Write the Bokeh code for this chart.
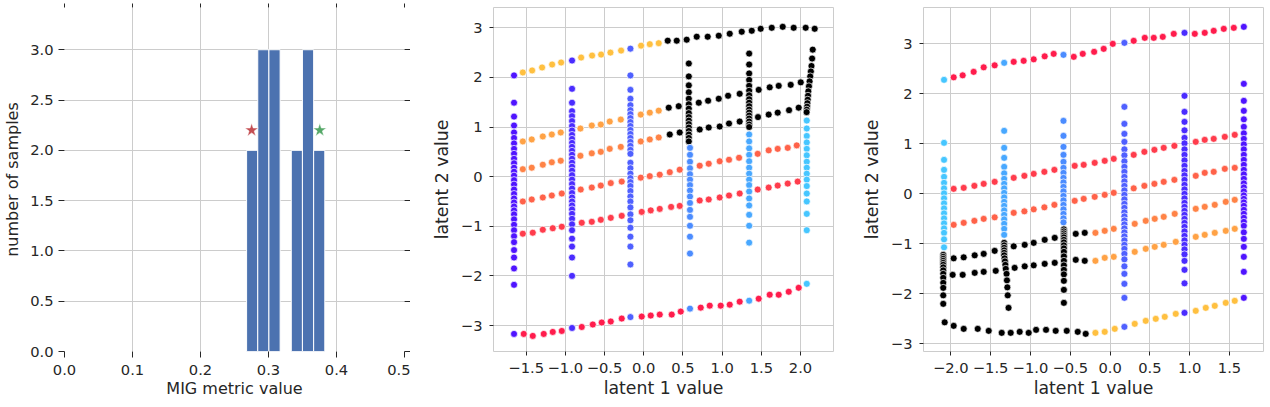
from bokeh.plotting import figure
from bokeh.models import Range1d, FixedTicker, LinearAxis, CustomJSTickFormatter
from bokeh.layouts import row
from bokeh.embed import file_html
from bokeh.resources import INLINE

# ---------------- data: left panel (histogram of MIG values) ----------------
hist_edges = [0.2678, 0.2842, 0.3006, 0.3171, 0.3335, 0.3499, 0.3664, 0.3828]
hist_counts = [2, 3, 3, 0, 2, 3, 2]
star_red = (0.2752, 2.2)
star_green = (0.3754, 2.2)
hist_xticks = [0.0, 0.1, 0.2, 0.3, 0.4, 0.5]
hist_yticks = [0.0, 0.5, 1.0, 1.5, 2.0, 2.5, 3.0]

# ---------------- data: middle panel ----------------
mid_row1_yellow_x = [-1.543, -1.424, -1.297, -1.169, -1.054, -0.799, -0.659, -0.544, -0.425, -0.289, -0.034, 0.077, 0.191]
mid_row1_yellow_y = [2.10, 2.14, 2.20, 2.26, 2.30, 2.40, 2.44, 2.46, 2.50, 2.54, 2.64, 2.67, 2.69]
mid_row1_black_x = [0.306, 0.421, 0.548, 0.676, 0.816, 0.957, 1.097, 1.250, 1.378, 1.492, 1.633, 1.773, 1.913, 2.066, 2.181]
mid_row1_black_y = [2.74, 2.74, 2.76, 2.82, 2.82, 2.84, 2.88, 2.92, 2.94, 2.98, 3.00, 3.02, 3.00, 3.00, 2.98]
mid_row2_orange_x = [-1.543, -1.429, -1.288, -1.173, -1.059, -0.808, -0.663, -0.548, -0.434, -0.293, -0.038, 0.077, 0.191]
mid_row2_orange_y = [0.71, 0.75, 0.81, 0.85, 0.89, 0.97, 1.03, 1.05, 1.11, 1.15, 1.25, 1.29, 1.33]
mid_row2_black_x = [0.319, 0.446, 0.702, 0.821, 0.957, 1.076, 1.224, 1.467, 1.607, 1.722, 1.875, 2.003]
mid_row2_black_y = [1.39, 1.42, 1.49, 1.53, 1.57, 1.63, 1.67, 1.75, 1.80, 1.83, 1.85, 1.90]
mid_row3_orange_x = [-1.543, -1.429, -1.288, -1.173, -1.059, -0.808, -0.663, -0.548, -0.434, -0.293, -0.038, 0.077, 0.191]
mid_row3_orange_y = [0.15, 0.18, 0.24, 0.29, 0.32, 0.42, 0.47, 0.50, 0.56, 0.60, 0.71, 0.75, 0.79]
mid_row3_black_x = [0.332, 0.459, 0.714, 0.829, 0.969, 1.088, 1.224, 1.458, 1.594, 1.709, 1.854, 1.977]
mid_row3_black_y = [0.85, 0.89, 0.95, 0.99, 1.01, 1.07, 1.11, 1.20, 1.25, 1.29, 1.34, 1.39]
mid_row4_x = [-1.543, -1.429, -1.288, -1.173, -1.046, -0.804, -0.663, -0.548, -0.421, -0.281, -0.038, 0.077, 0.204,
              0.332, 0.459, 0.714, 0.829, 0.969, 1.088, 1.216, 1.454, 1.594, 1.709, 1.837, 1.952]
mid_row4_y = [-0.50, -0.46, -0.42, -0.38, -0.34, -0.26, -0.22, -0.18, -0.13, -0.10, -0.02, 0.01, 0.04,
              0.09, 0.14, 0.22, 0.26, 0.31, 0.34, 0.38, 0.46, 0.53, 0.56, 0.58, 0.63]
mid_row5_x = [-1.543, -1.416, -1.288, -1.161, -1.046, -0.791, -0.663, -0.548, -0.421, -0.281, -0.026, 0.089, 0.204,
              0.349, 0.459, 0.714, 0.829, 0.969, 1.088, 1.224, 1.454, 1.594, 1.709, 1.837, 1.964]
mid_row5_y = [-1.15, -1.13, -1.07, -1.04, -1.01, -0.93, -0.91, -0.87, -0.83, -0.79, -0.71, -0.68, -0.65,
              -0.61, -0.59, -0.48, -0.46, -0.42, -0.38, -0.34, -0.26, -0.22, -0.18, -0.14, -0.10]
mid_row6_x = [-1.531, -1.416, -1.276, -1.161, -1.046, -0.791, -0.650, -0.536, -0.421, -0.281, -0.026, 0.089, 0.204,
              0.357, 0.472, 0.727, 0.842, 0.982, 1.097, 1.224, 1.467, 1.607, 1.722, 1.850, 1.977]
mid_row6_y = [-3.17, -3.21, -3.17, -3.13, -3.11, -3.03, -2.98, -2.94, -2.92, -2.86, -2.82, -2.80, -2.78,
              -2.78, -2.72, -2.64, -2.60, -2.60, -2.58, -2.52, -2.46, -2.38, -2.38, -2.32, -2.24]

mid_col_x = [-1.655, -0.915, -0.17, 0.59, 1.345, 2.08]
mid_col1_y = [2.04, 1.49, 1.21, 1.03, 0.89, 0.78, 0.67, 0.56, 0.46, 0.36, 0.27, 0.18, 0.10, 0.02, -0.07, -0.16,
              -0.26, -0.35, -0.44, -0.52, -0.60, -0.68, -0.76, -0.86, -0.97, -1.08, -1.20, -1.32, -1.48, -1.63,
              -1.85, -2.18, -3.17]
mid_col2_y = [2.34, 1.77, 1.49, 1.32, 1.22, 1.12, 1.02, 0.93, 0.84, 0.76, 0.68, 0.60, 0.52, 0.44, 0.36, 0.28,
              0.20, 0.12, 0.03, -0.06, -0.15, -0.24, -0.33, -0.42, -0.50, -0.58, -0.66, -0.75, -0.85, -0.96,
              -1.08, -1.25, -1.41, -1.63, -2.00, -3.05]
mid_col3_y = [2.58, 2.04, 1.75, 1.57, 1.44, 1.34, 1.26, 1.18, 1.10, 1.02, 0.94, 0.86, 0.78, 0.70, 0.62, 0.54,
              0.46, 0.28, 0.17, 0.06, -0.03, -0.11, -0.19, -0.29, -0.40, -0.50, -0.62, -0.76, -0.88, -1.03,
              -1.21, -1.41, -1.77, -2.83]
mid_col4_black_y = [2.28, 2.02, 1.84, 1.70, 1.57, 1.46, 1.37, 1.28, 1.20, 1.13, 1.06, 0.99, 0.92, 0.85, 0.78, 0.71]
mid_col4_blue_y = [0.58, 0.44, 0.30, 0.17, 0.05, -0.06, -0.17, -0.28, -0.40, -0.53, -0.67, -0.81, -0.99, -1.21,
                   -1.55, -2.66]
mid_col5_black_y = [2.48, 2.26, 2.08, 1.95, 1.83, 1.73, 1.64, 1.56, 1.49, 1.42, 1.35, 1.29, 1.23, 1.17, 1.11,
                    1.05, 1.00]
mid_col5_blue_y = [0.85, 0.71, 0.57, 0.44, 0.31, 0.18, 0.06, -0.06, -0.17, -0.30, -0.44, -0.58, -0.77, -0.99,
                   -1.33, -2.50]
mid_col6_black_x = [2.156, 2.148, 2.140, 2.132, 2.124, 2.116, 2.108, 2.100, 2.096, 2.092, 2.088, 2.084, 2.080, 2.078]
mid_col6_black_y = [2.56, 2.38, 2.23, 2.12, 2.02, 1.92, 1.82, 1.72, 1.63, 1.55, 1.48, 1.41, 1.35, 1.30]
mid_col6_cyan_y = [1.13, 0.97, 0.82, 0.69, 0.56, 0.43, 0.30, 0.18, 0.06, -0.06, -0.19, -0.34, -0.50, -0.75,
                   -1.08, -2.16]

# ---------------- data: right panel ----------------
rgt_row1_x = [-1.964, -1.851, -1.713, -1.587, -1.449, -1.210, -1.085, -0.959, -0.821, -0.708, -0.456, -0.343,
              -0.200, -0.080, 0.034, 0.297, 0.436, 0.549, 0.662, 0.800, 1.064, 1.189, 1.302, 1.428, 1.554]
rgt_row1_y = [2.33, 2.37, 2.44, 2.53, 2.57, 2.64, 2.66, 2.69, 2.75, 2.80, 2.74, 2.80, 2.84, 2.90, 3.00, 3.06,
              3.12, 3.12, 3.14, 3.20, 3.20, 3.22, 3.26, 3.30, 3.32]
rgt_row2_x = [-1.964, -1.838, -1.704, -1.587, -1.449, -1.210, -1.076, -0.959, -0.825, -0.699, -0.444, -0.331,
              -0.193, -0.067, 0.046, 0.297, 0.431, 0.557, 0.674, 0.808, 1.076, 1.189, 1.302, 1.441, 1.566]
rgt_row2_y = [0.10, 0.12, 0.16, 0.20, 0.24, 0.32, 0.36, 0.40, 0.44, 0.48, 0.56, 0.58, 0.62, 0.66, 0.70, 0.78,
              0.84, 0.88, 0.92, 0.96, 1.04, 1.08, 1.10, 1.14, 1.18]
rgt_row3_x = [-1.964, -1.838, -1.704, -1.587, -1.449, -1.210, -1.076, -0.959, -0.825, -0.699, -0.444, -0.331,
              -0.193, -0.067, 0.046, 0.297, 0.431, 0.557, 0.674, 0.808, 1.076, 1.189, 1.302, 1.441, 1.566]
rgt_row3_y = [-0.62, -0.58, -0.54, -0.50, -0.47, -0.38, -0.35, -0.31, -0.27, -0.22, -0.14, -0.10, -0.06, -0.02,
              0.02, 0.11, 0.16, 0.20, 0.24, 0.28, 0.36, 0.42, 0.44, 0.50, 0.52]
rgt_row4_black_x = [-1.964, -1.838, -1.700, -1.587, -1.449, -1.210, -1.072, -0.959, -0.821, -0.695, -0.431, -0.318]
rgt_row4_black_y = [-1.29, -1.27, -1.23, -1.20, -1.14, -1.05, -1.02, -0.98, -0.92, -0.88, -0.80, -0.78]
rgt_row4_orange_x = [-0.184, -0.067, 0.046, 0.310, 0.448, 0.561, 0.674, 0.812, 1.076, 1.189, 1.315, 1.453, 1.566]
rgt_row4_orange_y = [-0.78, -0.74, -0.70, -0.60, -0.54, -0.50, -0.46, -0.40, -0.30, -0.26, -0.22, -0.16, -0.12]
rgt_row5_black_x = [-1.977, -1.851, -1.700, -1.587, -1.436, -1.198, -1.072, -0.959, -0.821, -0.695, -0.431, -0.318]
rgt_row5_black_y = [-1.62, -1.62, -1.58, -1.56, -1.54, -1.48, -1.45, -1.43, -1.40, -1.38, -1.32, -1.34]
rgt_row5_orange_x = [-0.184, -0.067, 0.046, 0.310, 0.448, 0.561, 0.674, 0.825, 1.076, 1.189, 1.315, 1.453, 1.566]
rgt_row5_orange_y = [-1.34, -1.28, -1.26, -1.16, -1.10, -1.06, -1.02, -0.96, -0.86, -0.82, -0.78, -0.74, -0.70]
rgt_row6_black_x = [-2.077, -1.964, -1.838, -1.662, -1.524, -1.361, -1.248, -1.135, -1.022, -0.929, -0.804,
                    -0.683, -0.544, -0.406, -0.306]
rgt_row6_black_y = [-2.57, -2.64, -2.70, -2.70, -2.74, -2.78, -2.78, -2.76, -2.78, -2.72, -2.72, -2.74, -2.74,
                    -2.76, -2.80]
rgt_row6_yellow_x = [-0.184, -0.067, 0.059, 0.310, 0.448, 0.574, 0.687, 0.825, 1.076, 1.202, 1.315, 1.453, 1.566]
rgt_row6_yellow_y = [-2.78, -2.76, -2.70, -2.60, -2.54, -2.50, -2.46, -2.40, -2.34, -2.28, -2.24, -2.18, -2.14]

rgt_col_x = [-2.085, -1.33, -0.585, 0.18, 0.935, 1.68]
rgt_col1_cyan_y = [2.28, 1.02, 0.68, 0.48, 0.34, 0.22, 0.11, 0.01, -0.09, -0.19, -0.29, -0.39, -0.49, -0.59,
                   -0.69, -0.78, -0.91, -1.07]
rgt_col1_black_y = [-1.22, -1.26, -1.30, -1.34, -1.38, -1.42, -1.47, -1.53, -1.60, -1.68, -1.78, -1.88, -2.03, -2.20]
rgt_col2_blue_y = [2.62, 1.26, 0.92, 0.72, 0.54, 0.41, 0.30, 0.20, 0.11, 0.02, -0.07, -0.16, -0.24, -0.33,
                   -0.42, -0.51, -0.60, -0.70, -0.82]
rgt_col2_black_x = [-1.33, -1.33, -1.33, -1.33, -1.33, -1.33, -1.325, -1.32, -1.315, -1.31, -1.30, -1.295,
                    -1.29, -1.285, -1.275]
rgt_col2_black_y = [-0.98, -1.03, -1.08, -1.13, -1.18, -1.23, -1.29, -1.35, -1.42, -1.50, -1.60, -1.73, -1.87,
                    -2.03, -2.28]
rgt_col3_blue_y = [2.78, 1.46, 1.16, 0.94, 0.78, 0.64, 0.52, 0.42, 0.32, 0.23, 0.14, 0.05, -0.04, -0.13,
                   -0.22, -0.31, -0.40, -0.49, -0.57]
rgt_col3_black_y = [-0.71, -0.75, -0.79, -0.83, -0.87, -0.92, -0.97, -1.03, -1.09, -1.16, -1.25, -1.34, -1.43,
                    -1.52, -1.61, -1.74, -1.92, -2.18]
rgt_col4_y = [3.02, 1.74, 1.40, 1.20, 1.04, 0.89, 0.77, 0.65, 0.54, 0.44, 0.34, 0.25, 0.16, 0.07, -0.02, -0.11,
              -0.20, -0.28, -0.37, -0.45, -0.53, -0.61, -0.69, -0.77, -0.85, -0.93, -1.02, -1.10, -1.20, -1.31,
              -1.45, -1.60, -1.80, -2.08, -2.66]
rgt_col5_y = [3.22, 1.96, 1.64, 1.44, 1.27, 1.12, 1.01, 0.89, 0.78, 0.67, 0.56, 0.46, 0.37, 0.28, 0.18, 0.09,
              0.00, -0.09, -0.18, -0.26, -0.34, -0.42, -0.50, -0.58, -0.66, -0.75, -0.84, -0.93, -1.02, -1.11,
              -1.21, -1.34, -1.52, -1.79, -2.38]
rgt_col6_y = [3.34, 2.20, 1.86, 1.66, 1.49, 1.34, 1.21, 1.10, 0.99, 0.89, 0.78, 0.68, 0.58, 0.48, 0.39, 0.30,
              0.21, 0.13, 0.05, -0.03, -0.10, -0.17, -0.24, -0.32, -0.40, -0.48, -0.56, -0.64, -0.77, -0.90,
              -1.06, -1.26, -1.56, -2.08]

mid_xticks = [-1.5, -1.0, -0.5, 0.0, 0.5, 1.0, 1.5, 2.0]
mid_yticks = [-3, -2, -1, 0, 1, 2, 3]
rgt_xticks = [-2.0, -1.5, -1.0, -0.5, 0.0, 0.5, 1.0, 1.5]
rgt_yticks = [-3, -2, -1, 0, 1, 2, 3]

# ---------------- styles ----------------
TEXT = "#262626"
FONT = "DejaVu Sans"
GRID = "#cccccc"
BAR = "#4c72b0"
C_YELLOW, C_ORANGE1, C_ORANGE2, C_REDOR, C_RED, C_CRIMSON = "#ffc040", "#ffa245", "#ff8346", "#ff6249", "#ff3c4c", "#ff1c4c"
C_COL1, C_COL2, C_COL3, C_COL4, C_COL5, C_COL6 = "#4f14ff", "#4a2cff", "#4f60ff", "#4b8cff", "#48a8ff", "#46c6ff"
BLACK = "#000000"

fmt1 = "return (tick < 0 ? '\u2212' : '') + Math.abs(tick).toFixed(1);"
fmt0 = "return (tick < 0 ? '\u2212' : '') + Math.abs(tick).toFixed(0);"

FIG_H = 405


def style_axis(ax, label_size, tick_out):
    ax.axis_label_text_font = FONT
    ax.axis_label_text_font_size = label_size
    ax.axis_label_text_font_style = "normal"
    ax.axis_label_text_color = TEXT
    ax.axis_label_text_line_height = 1.0
    ax.major_label_text_font = FONT
    ax.major_label_text_font_size = "14.7px"
    ax.major_label_text_color = TEXT
    ax.major_label_text_line_height = 1.0
    ax.axis_line_color = None
    ax.major_tick_line_color = TEXT
    ax.major_tick_out = tick_out
    ax.major_tick_in = 0
    ax.minor_tick_line_color = None


def hidden_axis(ticks, tick_out):
    ax = LinearAxis(ticker=FixedTicker(ticks=ticks))
    style_axis(ax, "16px", tick_out)
    ax.major_label_text_font_size = "0px"
    ax.major_label_text_color = None
    ax.major_label_standoff = 0
    ax.axis_label_standoff = 0
    return ax


# ---------------- left panel ----------------
p1 = figure(width=410, height=FIG_H, x_range=Range1d(0, 0.5), y_range=Range1d(0, 3.42),
            output_backend="svg", toolbar_location=None,
            min_border_left=63, min_border_right=6, min_border_top=6, min_border_bottom=FIG_H - 352)
p1.outline_line_color = None
p1.background_fill_color = "white"
p1.xgrid.grid_line_color = GRID
p1.ygrid.grid_line_color = GRID
p1.quad(left=hist_edges[:-1], right=hist_edges[1:], bottom=0, top=hist_counts,
        fill_color=BAR, line_color="white", line_width=1)
p1.scatter(x=[star_red[0]], y=[star_red[1]], marker="star", size=14, fill_color="#c44e52",
           line_color="white", line_width=0.5)
p1.scatter(x=[star_green[0]], y=[star_green[1]], marker="star", size=14, fill_color="#55a868",
           line_color="white", line_width=0.5)
p1.xaxis.ticker = FixedTicker(ticks=hist_xticks)
p1.yaxis.ticker = FixedTicker(ticks=hist_yticks)
p1.xaxis.formatter = CustomJSTickFormatter(code=fmt1)
p1.yaxis.formatter = CustomJSTickFormatter(code=fmt1)
p1.xaxis.axis_label = "MIG metric value"
p1.yaxis.axis_label = "number of samples"
for ax in p1.xaxis + p1.yaxis:
    style_axis(ax, "16px", 6)
p1.xaxis.major_label_standoff = 7
p1.xaxis.axis_label_standoff = 1
p1.yaxis.major_label_standoff = 5
p1.yaxis.axis_label_standoff = 5
p1.add_layout(hidden_axis(hist_xticks, 4), "above")
p1.add_layout(hidden_axis(hist_yticks, 6), "right")


def scatter_panel(p, series):
    for xs, ys, col in series:
        p.scatter(x=xs, y=ys, size=7, fill_color=col, line_color="white", line_width=0.7)


def style_scatter_fig(p, xticks, yticks):
    p.outline_line_color = GRID
    p.outline_line_width = 1
    p.xgrid.grid_line_color = GRID
    p.ygrid.grid_line_color = GRID
    p.xaxis.ticker = FixedTicker(ticks=xticks)
    p.yaxis.ticker = FixedTicker(ticks=yticks)
    p.xaxis.formatter = CustomJSTickFormatter(code=fmt1)
    p.yaxis.formatter = CustomJSTickFormatter(code=fmt0)
    p.xaxis.axis_label = "latent 1 value"
    p.yaxis.axis_label = "latent 2 value"
    for ax in p.xaxis + p.yaxis:
        style_axis(ax, "17.3px", 4)
    p.xaxis.major_label_standoff = 7
    p.xaxis.axis_label_standoff = 2
    p.yaxis.major_label_standoff = 7
    p.yaxis.axis_label_standoff = 6


# ---------------- middle panel ----------------
p2 = figure(width=429, height=FIG_H, x_range=Range1d(-1.917, 2.421), y_range=Range1d(-3.524, 3.409),
            output_backend="svg", toolbar_location=None,
            min_border_left=83, min_border_right=6, min_border_top=7, min_border_bottom=FIG_H - 351)
style_scatter_fig(p2, mid_xticks, mid_yticks)
mid_series = [
    (mid_row1_yellow_x, mid_row1_yellow_y, C_YELLOW),
    (mid_row1_black_x, mid_row1_black_y, BLACK),
    (mid_row2_orange_x, mid_row2_orange_y, C_ORANGE1),
    (mid_row2_black_x, mid_row2_black_y, BLACK),
    (mid_row3_orange_x, mid_row3_orange_y, C_ORANGE2),
    (mid_row3_black_x, mid_row3_black_y, BLACK),
    (mid_row4_x, mid_row4_y, C_REDOR),
    (mid_row5_x, mid_row5_y, C_RED),
    (mid_row6_x, mid_row6_y, C_CRIMSON),
    ([mid_col_x[0]] * len(mid_col1_y), mid_col1_y, C_COL1),
    ([mid_col_x[1]] * len(mid_col2_y), mid_col2_y, C_COL2),
    ([mid_col_x[2]] * len(mid_col3_y), mid_col3_y, C_COL3),
    ([mid_col_x[3] - 0.015] * len(mid_col4_black_y), mid_col4_black_y, BLACK),
    ([mid_col_x[3]] * len(mid_col4_blue_y), mid_col4_blue_y, C_COL4),
    ([mid_col_x[4]] * len(mid_col5_black_y), mid_col5_black_y, BLACK),
    ([mid_col_x[4]] * len(mid_col5_blue_y), mid_col5_blue_y, C_COL5),
    (mid_col6_black_x, mid_col6_black_y, BLACK),
    ([mid_col_x[5]] * len(mid_col6_cyan_y), mid_col6_cyan_y, C_COL6),
]
scatter_panel(p2, mid_series)

# ---------------- right panel ----------------
p3 = figure(width=429, height=FIG_H, x_range=Range1d(-2.343, 1.927), y_range=Range1d(-3.153, 3.727),
            output_backend="svg", toolbar_location=None,
            min_border_left=84, min_border_right=5, min_border_top=7, min_border_bottom=FIG_H - 351)
style_scatter_fig(p3, rgt_xticks, rgt_yticks)
rgt_series = [
    (rgt_row1_x, rgt_row1_y, C_CRIMSON),
    (rgt_row2_x, rgt_row2_y, C_RED),
    (rgt_row3_x, rgt_row3_y, C_REDOR),
    (rgt_row4_black_x, rgt_row4_black_y, BLACK),
    (rgt_row4_orange_x, rgt_row4_orange_y, C_ORANGE2),
    (rgt_row5_black_x, rgt_row5_black_y, BLACK),
    (rgt_row5_orange_x, rgt_row5_orange_y, C_ORANGE1),
    (rgt_row6_black_x, rgt_row6_black_y, BLACK),
    (rgt_row6_yellow_x, rgt_row6_yellow_y, C_YELLOW),
    ([rgt_col_x[0]] * len(rgt_col1_cyan_y), rgt_col1_cyan_y, C_COL6),
    ([rgt_col_x[0] - 0.01] * len(rgt_col1_black_y), rgt_col1_black_y, BLACK),
    ([rgt_col_x[1]] * len(rgt_col2_blue_y), rgt_col2_blue_y, C_COL5),
    (rgt_col2_black_x, rgt_col2_black_y, BLACK),
    ([rgt_col_x[2]] * len(rgt_col3_blue_y), rgt_col3_blue_y, C_COL4),
    ([rgt_col_x[2] + 0.005] * len(rgt_col3_black_y), rgt_col3_black_y, BLACK),
    ([rgt_col_x[3]] * len(rgt_col4_y), rgt_col4_y, C_COL3),
    ([rgt_col_x[4]] * len(rgt_col5_y), rgt_col5_y, C_COL2),
    ([rgt_col_x[5]] * len(rgt_col6_y), rgt_col6_y, C_COL1),
]
scatter_panel(p3, rgt_series)

layout = row(p1, p2, p3)
open("out.html", "w").write(file_html(layout, INLINE))
